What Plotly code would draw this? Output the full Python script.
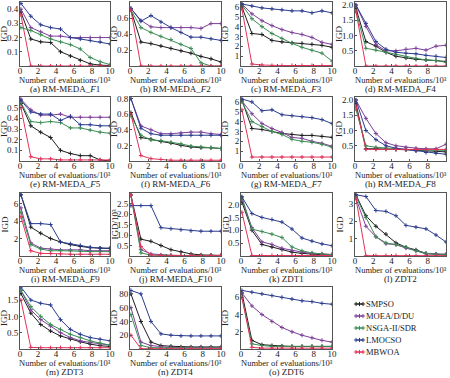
import plotly.graph_objects as go

ALGOS = ["SMPSO", "MOEA/D/DU", "NSGA-II/SDR", "LMOCSO", "MBWOA"]
COLORS = ["#1e1e1e", "#7d3f98", "#3d8c55", "#2b3c8e", "#e0335c"]
X = [0.1, 1.2, 2.3, 3.4, 4.5, 5.6, 6.7, 7.8, 8.9, 10]

# order of each panel's series: SMPSO, MOEA/D/DU, NSGA-II/SDR, LMOCSO, MBWOA
F1 = [[0.38, 0.19, 0.17, 0.165, 0.10, 0.07, 0.04, 0.015, 0.006, 0.003],
      [0.40, 0.27, 0.24, 0.21, 0.21, 0.20, 0.20, 0.20, 0.20, 0.20],
      [0.27, 0.25, 0.22, 0.19, 0.17, 0.15, 0.12, 0.06, 0.03, 0.01],
      [0.44, 0.35, 0.29, 0.27, 0.26, 0.20, 0.19, 0.18, 0.17, 0.155],
      [0.36, 0.0, 0.0, 0.0, 0.0, 0.0, 0.0, 0.0, 0.0, 0.0]]
F2 = [[0.70, 0.30, 0.28, 0.25, 0.22, 0.19, 0.16, 0.12, 0.09, 0.05],
      [0.72, 0.57, 0.49, 0.48, 0.48, 0.48, 0.48, 0.47, 0.53, 0.53],
      [0.70, 0.48, 0.42, 0.37, 0.33, 0.27, 0.22, 0.04, 0.0, 0.0],
      [0.72, 0.56, 0.63, 0.55, 0.48, 0.42, 0.36, 0.36, 0.34, 0.32],
      [0.70, 0.0, 0.0, 0.0, 0.0, 0.0, 0.0, 0.0, 0.0, 0.0]]
F3 = [[6.0, 3.3, 3.2, 2.6, 2.45, 2.35, 2.3, 2.2, 2.1, 1.9],
      [6.3, 5.3, 4.6, 4.1, 3.7, 3.4, 3.2, 2.9, 2.4, 2.2],
      [6.2, 4.8, 4.0, 3.3, 2.8, 2.3, 1.9, 1.6, 1.3, 0.5],
      [6.3, 6.1, 5.9, 5.8, 5.7, 5.6, 5.6, 5.4, 5.6, 5.4],
      [5.8, 0.2, 0.1, 0.05, 0.05, 0.05, 0.05, 0.05, 0.05, 0.05]]
F4 = [[1.9, 0.8, 0.65, 0.45, 0.32, 0.26, 0.22, 0.20, 0.18, 0.15],
      [2.0, 1.3, 0.7, 0.5, 0.5, 0.55, 0.58, 0.52, 0.65, 0.68],
      [1.8, 0.58, 0.52, 0.45, 0.38, 0.30, 0.25, 0.20, 0.18, 0.12],
      [2.0, 1.4, 0.8, 0.55, 0.45, 0.42, 0.40, 0.35, 0.32, 0.28],
      [1.8, 0.0, 0.0, 0.0, 0.0, 0.0, 0.0, 0.0, 0.0, 0.0]]
F5 = [[0.54, 0.33, 0.27, 0.22, 0.10, 0.07, 0.05, 0.05, 0.01, 0.0],
      [0.58, 0.48, 0.43, 0.43, 0.44, 0.41, 0.41, 0.41, 0.41, 0.41],
      [0.55, 0.37, 0.36, 0.37, 0.36, 0.31, 0.31, 0.29, 0.27, 0.26],
      [0.57, 0.46, 0.44, 0.44, 0.38, 0.42, 0.34, 0.34, 0.33, 0.33],
      [0.50, 0.04, 0.02, 0.02, 0.01, 0.01, 0.01, 0.01, 0.01, 0.01]]
F6 = [[0.62, 0.30, 0.28, 0.25, 0.23, 0.20, 0.18, 0.17, 0.17, 0.16],
      [0.80, 0.45, 0.40, 0.35, 0.35, 0.36, 0.37, 0.37, 0.35, 0.34],
      [0.58, 0.33, 0.27, 0.26, 0.24, 0.22, 0.19, 0.18, 0.17, 0.16],
      [0.80, 0.42, 0.35, 0.33, 0.33, 0.33, 0.33, 0.33, 0.33, 0.33],
      [0.60, 0.07, 0.03, 0.02, 0.01, 0.01, 0.01, 0.01, 0.01, 0.01]]
F7 = [[6.2, 3.3, 3.2, 3.0, 2.8, 2.7, 2.6, 2.6, 2.5, 2.4],
      [6.1, 4.8, 3.8, 3.3, 2.9, 2.4, 2.3, 2.0, 1.8, 1.5],
      [6.0, 4.0, 3.5, 3.0, 2.7, 2.2, 2.0, 1.9, 1.7, 1.4],
      [6.3, 6.0, 5.1, 5.2, 4.7, 4.6, 4.5, 4.4, 4.2, 3.8],
      [5.2, 0.4, 0.4, 0.4, 0.4, 0.4, 0.4, 0.4, 0.4, 0.4]]
F8 = [[1.9, 0.40, 0.40, 0.40, 0.38, 0.37, 0.35, 0.33, 0.30, 0.30],
      [2.0, 1.4, 0.9, 0.6, 0.5, 0.45, 0.42, 0.40, 0.40, 0.55],
      [1.7, 0.50, 0.45, 0.42, 0.40, 0.38, 0.36, 0.35, 0.35, 0.35],
      [2.0, 1.0, 0.7, 0.5, 0.42, 0.38, 0.33, 0.28, 0.25, 0.22],
      [1.8, 0.38, 0.38, 0.38, 0.38, 0.38, 0.38, 0.38, 0.38, 0.38]]
F9 = [[7.0, 3.3, 2.6, 2.0, 1.6, 1.3, 1.1, 0.95, 0.9, 0.85],
      [5.5, 1.5, 0.9, 0.8, 0.7, 0.7, 0.7, 0.6, 0.6, 0.6],
      [5.0, 1.3, 0.8, 0.6, 0.6, 0.6, 0.55, 0.5, 0.5, 0.5],
      [7.0, 3.7, 3.7, 3.6, 1.6, 1.4, 1.2, 1.0, 0.9, 0.9],
      [4.5, 0.6, 0.3, 0.3, 0.25, 0.2, 0.2, 0.2, 0.2, 0.2]]
F10 = [[2.9, 0.8, 0.7, 0.5, 0.3, 0.2, 0.1, 0.05, 0.04, 0.03],
       [2.9, 0.3, 0.1, 0.05, 0.03, 0.02, 0.02, 0.02, 0.02, 0.02],
       [2.9, 0.15, 0.04, 0.03, 0.02, 0.02, 0.02, 0.02, 0.02, 0.02],
       [2.4, 2.4, 2.4, 1.35, 1.3, 1.25, 1.2, 1.18, 1.18, 1.18],
       [2.9, 0.45, 0.05, 0.02, 0.02, 0.02, 0.02, 0.02, 0.02, 0.02]]
ZDT1 = [[2.1, 1.0, 0.45, 0.35, 0.25, 0.15, 0.10, 0.07, 0.05, 0.04],
        [2.2, 1.1, 0.55, 0.45, 0.30, 0.22, 0.15, 0.10, 0.08, 0.06],
        [2.3, 1.05, 0.95, 0.85, 0.72, 0.35, 0.20, 0.12, 0.08, 0.05],
        [2.3, 1.65, 1.5, 1.42, 1.32, 1.05, 0.7, 0.58, 0.47, 0.40],
        [1.7, 0.02, 0.02, 0.02, 0.02, 0.02, 0.02, 0.02, 0.02, 0.02]]
ZDT2 = [[3.5, 2.3, 1.7, 1.25, 0.75, 0.5, 0.35, 0.15, 0.1, 0.05],
        [3.3, 1.7, 1.1, 0.7, 0.65, 0.45, 0.3, 0.12, 0.12, 0.1],
        [3.4, 2.2, 1.1, 0.75, 0.65, 0.5, 0.3, 0.15, 0.1, 0.1],
        [3.5, 3.4, 2.6, 2.55, 2.3, 1.75, 1.65, 1.55, 1.2, 0.8],
        [3.3, 0.02, 0.02, 0.02, 0.02, 0.02, 0.02, 0.02, 0.02, 0.02]]
ZDT3 = [[1.7, 1.1, 0.75, 0.55, 0.4, 0.3, 0.22, 0.15, 0.1, 0.08],
        [1.8, 1.2, 0.9, 0.7, 0.5, 0.35, 0.25, 0.2, 0.15, 0.12],
        [1.8, 1.3, 1.0, 0.75, 0.6, 0.45, 0.35, 0.25, 0.18, 0.12],
        [1.9, 1.5, 1.4, 1.35, 0.9, 0.6, 0.45, 0.35, 0.3, 0.25],
        [1.5, 0.05, 0.04, 0.04, 0.04, 0.04, 0.04, 0.04, 0.04, 0.04]]
ZDT4 = [[80, 40, 10, 5, 4, 3, 3, 3, 3, 3],
        [60, 10, 5, 3, 2, 2, 2, 2, 2, 2],
        [50, 5, 2, 1.5, 1.5, 1.5, 1.5, 1.5, 1.5, 1.5],
        [85, 80, 40, 22, 20, 19, 19, 19, 19, 19],
        [20, 0.5, 0.5, 0.5, 0.5, 0.5, 0.5, 0.5, 0.5, 0.5]]
ZDT6 = [[6.5, 1.0, 0.5, 0.4, 0.35, 0.3, 0.3, 0.3, 0.3, 0.3],
        [6.5, 5.0, 4.0, 3.2, 2.5, 2.0, 1.6, 1.3, 1.0, 0.8],
        [6.0, 0.6, 0.4, 0.3, 0.3, 0.3, 0.3, 0.3, 0.3, 0.3],
        [6.8, 6.6, 6.4, 6.2, 6.0, 5.8, 5.6, 5.5, 5.3, 5.2],
        [6.0, 0.2, 0.1, 0.1, 0.1, 0.1, 0.1, 0.1, 0.1, 0.1]]

PANELS = [F1, F2, F3, F4, F5, F6, F7, F8, F9, F10, ZDT1, ZDT2, ZDT3, ZDT4, ZDT6]
SUBTITLES = ["(a) RM-MEDA_<i>F</i>1", "(b) RM-MEDA_<i>F</i>2", "(c) RM-MEDA_<i>F</i>3",
             "(d) RM-MEDA_<i>F</i>4", "(e) RM-MEDA_<i>F</i>5", "(f) RM-MEDA_<i>F</i>6",
             "(g) RM-MEDA_<i>F</i>7", "(h) RM-MEDA_<i>F</i>8", "(i) RM-MEDA_<i>F</i>9",
             "(j) RM-MEDA_<i>F</i>10", "(k) ZDT1", "(l) ZDT2", "(m) ZDT3", "(n) ZDT4", "(o) ZDT6"]
YTITLES = ["IGD"] * 9 + ["IGD/10³"] + ["IGD"] * 5
XTITLE = "Number of evaluations/10³"
YRANGES = [0.45, 0.8, 6.5, 2.1, 0.6, 0.82, 6.5, 2.1, 7.2, 3.0, 2.45, 3.6, 1.9, 90, 7.2]
YTICKS = [[0.1, 0.2, 0.3, 0.4], [0.2, 0.4, 0.6, 0.8], [1, 2, 3, 4, 5, 6],
          [0.5, 1.0, 1.5, 2.0], [0.1, 0.2, 0.3, 0.4, 0.5], [0.2, 0.4, 0.6, 0.8],
          [1, 2, 3, 4, 5, 6], [0.5, 1.0, 1.5, 2.0], [2, 4, 6],
          [0.5, 1.0, 1.5, 2.0, 2.5], [0.5, 1.0, 1.5, 2.0], [1, 2, 3],
          [0.5, 1.0, 1.5], [20, 40, 60, 80], [2, 4, 6]]
YTICKTEXT = [None, None, None, ["0.5", "1.0", "1.5", "2.0"], None, None, None,
             ["0.5", "1.0", "1.5", "2.0"], None, ["0.5", "1.0", "1.5", "2.0", "2.5"],
             ["0.5", "1.0", "1.5", "2.0"], None, ["0.5", "1.0", "1.5"], None, None]
XTICKS = [0, 2, 4, 6, 8, 10]

W, H = 450, 378
COLS_PX = [(20, 110), (130, 221), (241, 332), (355, 446)]
ROWS_PX = [(2, 66), (97, 161), (193, 256), (287, 349)]
FONT = "Liberation Serif, Times New Roman, serif"
TXT = "#222"


def px(xp, yp):
    return xp / W, 1 - yp / H


fig = go.Figure()
annotations = []
for i, data in enumerate(PANELS):
    r, c = divmod(i, 4)
    ax = "" if i == 0 else str(i + 1)
    x0, x1 = COLS_PX[c]
    y0, y1 = ROWS_PX[r]
    for k, series in enumerate(data):
        fig.add_trace(go.Scatter(
            x=X, y=series, mode="lines+markers", name=ALGOS[k], showlegend=False,
            line=dict(color=COLORS[k], width=1),
            marker=dict(symbol="cross-thin", size=3, line=dict(color=COLORS[k], width=1)),
            xaxis="x" + ax, yaxis="y" + ax))
    tf = dict(family=FONT, size=9, color=TXT)
    fig.layout["xaxis" + ax] = dict(
        domain=[x0 / W, x1 / W], range=[0, 10], tickvals=XTICKS, anchor="y" + ax,
        showline=True, mirror=True, linecolor="#555", linewidth=1, ticks="inside",
        ticklen=2, tickcolor="#555", showgrid=False, zeroline=False, tickfont=tf,
        ticklabelstandoff=-4, automargin=False)
    yax = dict(
        domain=[1 - y1 / H, 1 - y0 / H], range=[0, YRANGES[i]], tickvals=YTICKS[i], anchor="x" + ax,
        showline=True, mirror=True, linecolor="#555", linewidth=1, ticks="inside",
        ticklen=2, tickcolor="#555", showgrid=False, zeroline=False, tickfont=tf,
        ticklabelstandoff=-1, automargin=False)
    if YTICKTEXT[i] is not None:
        yax["ticktext"] = YTICKTEXT[i]
    fig.layout["yaxis" + ax] = yax
    cx = (x0 + x1) / 2
    ax_, ay_ = px(cx, y1 + 13.5)
    annotations.append(dict(text=XTITLE, x=ax_, y=ay_, xref="paper", yref="paper",
                            xanchor="center", yanchor="middle", showarrow=False,
                            font=dict(family=FONT, size=8.5, color=TXT)))
    sx, sy = px(cx, y1 + 23)
    annotations.append(dict(text=SUBTITLES[i], x=sx, y=sy, xref="paper", yref="paper",
                            xanchor="center", yanchor="middle", showarrow=False,
                            font=dict(family=FONT, size=9, color=TXT)))
    tx, ty = px(x0 - 16, (y0 + y1) / 2)
    annotations.append(dict(text=YTITLES[i], x=tx, y=ty, xref="paper", yref="paper",
                            xanchor="center", yanchor="middle", showarrow=False, textangle=-90,
                            font=dict(family=FONT, size=9, color=TXT)))

# manual legend (compact), drawn on a hidden pixel-space axis
LEG_Y = [304, 316, 328, 340, 352]
fig.layout["xaxis16"] = dict(domain=[350 / W, 450 / W], range=[350, 450], visible=False,
                             anchor="y16", fixedrange=True)
fig.layout["yaxis16"] = dict(domain=[1 - 360 / H, 1 - 296 / H], range=[360, 296], visible=False,
                             anchor="x16", fixedrange=True)
for k, name in enumerate(ALGOS):
    fig.add_trace(go.Scatter(
        x=[356, 359.5, 363], y=[LEG_Y[k]] * 3, mode="lines+markers", showlegend=False,
        line=dict(color=COLORS[k], width=1),
        marker=dict(symbol="cross-thin", size=3, color=COLORS[k], line=dict(color=COLORS[k], width=1)),
        xaxis="x16", yaxis="y16", hoverinfo="skip"))
    lx, ly = px(364, LEG_Y[k])
    annotations.append(dict(text=name, x=lx, y=ly, xref="paper", yref="paper",
                            xanchor="left", yanchor="middle", showarrow=False,
                            font=dict(family=FONT, size=8.5, color=TXT)))

fig.update_layout(
    width=W, height=H, margin=dict(l=0, r=0, t=0, b=0, autoexpand=False),
    paper_bgcolor="white", plot_bgcolor="white", annotations=annotations, showlegend=False,
)
fig.write_html("out.html", config={"displayModeBar": False},
               post_script="document.body.style.margin='0';document.body.style.overflow='hidden';")
